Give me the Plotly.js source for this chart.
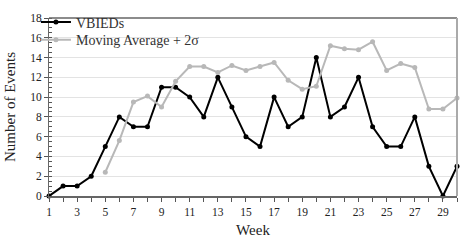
<!DOCTYPE html>
<html>
<head>
<meta charset="utf-8">
<script src="https://cdn.plot.ly/plotly-3.0.1.min.js"></script>
<style>html,body{margin:0;padding:0;background:#fff;}#chart{width:463px;height:240px;}</style>
</head>
<body>
<div id="chart"></div>
<script>
const weeks = [1,2,3,4,5,6,7,8,9,10,11,12,13,14,15,16,17,18,19,20,21,22,23,24,25,26,27,28,29,30];
const vbieds = [0,1,1,2,5,8,7,7,11,11,10,8,12,9,6,5,10,7,8,14,8,9,12,7,5,5,8,3,0,3];
const maWeeks = [5,6,7,8,9,10,11,12,13,14,15,16,17,18,19,20,21,22,23,24,25,26,27,28,29,30];
const movingAvg2s = [2.4,5.6,9.5,10.1,9.0,11.6,13.1,13.1,12.5,13.2,12.7,13.1,13.5,11.7,10.8,11.1,15.2,14.9,14.8,15.6,12.7,13.4,13.0,8.8,8.8,9.9];
const xTickVals = [1,3,5,7,9,11,13,15,17,19,21,23,25,27,29];
const yTickVals = [0,2,4,6,8,10,12,14,16,18];

const font = '"Liberation Serif", "Times New Roman", Times, serif';
const traces = [
  {x: weeks, y: vbieds, name: 'VBIEDs', mode: 'lines+markers', cliponaxis: false, legend: 'legend',
   line: {color: '#000000', width: 2}, marker: {color: '#000000', size: 5}},
  {x: maWeeks, y: movingAvg2s, name: 'Moving Average + 2σ', mode: 'lines+markers', cliponaxis: false, legend: 'legend2',
   line: {color: '#b8b8b8', width: 2}, marker: {color: '#b8b8b8', size: 5}}
];
const legBase = {x: -0.032, xanchor: 'left', yanchor: 'middle', bgcolor: 'rgba(0,0,0,0)',
                 font: {family: font, size: 14, color: '#333'}, itemwidth: 30};
const layout = {
  width: 463, height: 240,
  margin: {l: 49, r: 6, t: 7, b: 44},
  paper_bgcolor: '#ffffff', plot_bgcolor: '#ffffff',
  font: {family: font, size: 11, color: '#222'},
  showlegend: true,
  legend: Object.assign({}, legBase, {y: 0.975}),
  legend2: Object.assign({}, legBase, {y: 0.875}),
  xaxis: {range: [1, 30], tickvals: xTickVals, ticktext: xTickVals.map(String),
          ticks: 'outside', ticklen: 4, tickcolor: '#555', tickwidth: 1,
          minor: {dtick: 1, tick0: 0, ticks: 'outside', ticklen: 4, tickcolor: '#555'},
          showline: true, linecolor: '#666', linewidth: 2, showgrid: false, zeroline: false,
          title: {text: 'Week', font: {family: font, size: 15, color: '#222'}, standoff: 8},
          tickfont: {family: font, size: 11.5, color: '#222'}},
  yaxis: {range: [0, 18], tickvals: yTickVals, ticks: 'outside', ticklen: 4, tickcolor: '#555',
          minor: {dtick: 0.5, ticks: 'inside', ticklen: 3, tickcolor: '#555', showgrid: false},
          showline: true, linecolor: '#666', linewidth: 1, showgrid: true, gridcolor: '#e3e3e3', gridwidth: 1,
          zeroline: false,
          title: {text: 'Number of Events', font: {family: font, size: 15, color: '#222'}, standoff: 10},
          tickfont: {family: font, size: 11.5, color: '#222'}},
  shapes: [
    {type: 'line', xref: 'paper', yref: 'paper', x0: 0, x1: 1, y0: 1, y1: 1, line: {color: '#666', width: 1.5}},
    {type: 'line', xref: 'paper', yref: 'paper', x0: 1, x1: 1, y0: 0, y1: 1, line: {color: '#aaa', width: 2}}
  ]
};
Plotly.newPlot('chart', traces, layout, {displayModeBar: false, staticPlot: true});
</script>
</body>
</html>
